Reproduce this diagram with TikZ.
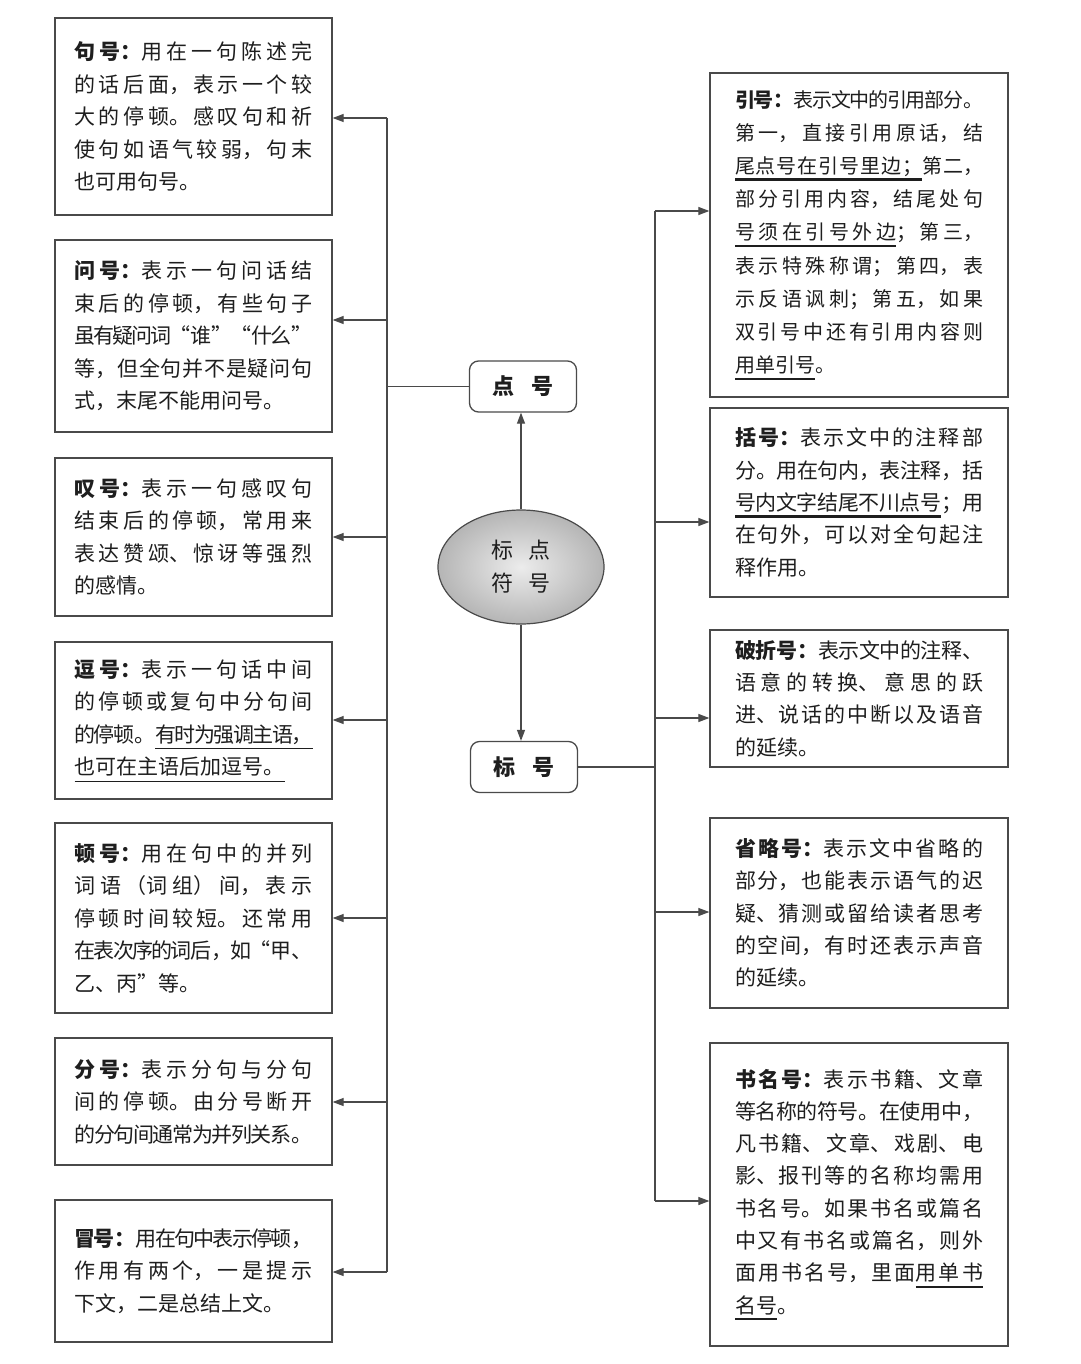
\documentclass[tikz,border=0pt]{standalone}
\usepackage{fontspec}
\newfontfamily\cjk{Noto Sans CJK SC}
\usetikzlibrary{arrows.meta,shapes.geometric}
\XeTeXlinebreaklocale "zh"
\XeTeXlinebreakskip=0pt plus 6pt minus 2.5pt
\tolerance=10000
\hbadness=10000
\hfuzz=20pt
\linepenalty=1000
% stretchable underline built char by char
\def\ulth{2.2pt}
\def\myulEnd{MYULEND}
\def\myul#1{\myulA#1\myulEnd}
\def\myulA#1{\ifx#1\myulEnd\else\myulC{#1}\expandafter\myulB\fi}
\def\myulB#1{\ifx#1\myulEnd\else\myulG\myulC{#1}\expandafter\myulB\fi}
\def\myulC#1{\setbox0\hbox{#1}\rlap{\vrule width\wd0 height\dimexpr-7pt+\ulth\relax depth 7pt}\box0}
\def\myulG{\leaders\vrule height\dimexpr-7pt+\ulth\relax depth 7pt\hskip 0pt plus 6pt minus 2.5pt}
\newcommand{\ulthin}[1]{{\def\ulth{0.9pt}\myul{#1}}}
\definecolor{linec}{HTML}{4A4A4A}
\definecolor{txtc}{HTML}{1E1E1E}
\tikzset{
  lbox/.style={draw=linec, line width=1.3pt, rectangle, text width=238pt, inner xsep=19.5pt, inner ysep=0pt, align=justify, text=txtc, font=\cjk\fontsize{21}{32.5}\selectfont},
  rbox/.style={draw=linec, line width=1.3pt, rectangle, text width=248pt, inner xsep=25pt, inner ysep=0pt, align=justify, text=txtc, font=\cjk\fontsize{21}{32.3}\selectfont},
  cbox/.style={draw=linec, line width=1.3pt, rounded corners=9pt, minimum width=107pt, minimum height=51pt, text=txtc, font=\cjk\bfseries\fontsize{22}{26}\selectfont},
  link/.style={draw=linec, line width=1.2pt},
  arr/.style={link, -{Triangle[length=11pt,width=8pt]}}
}
\begin{document}
\begin{tikzpicture}[x=1pt,y=-1pt]
\useasboundingbox[fill=white] (0,0) rectangle (1080,1364);

% left boxes
\node[lbox, minimum height=197pt] (l1) at (193.5,116.5) {\textbf{句号：}用在一句陈述完\linebreak 的话后面，表示一个较\linebreak 大的停顿。感叹句和祈\linebreak 使句如语气较弱，句末\linebreak 也可用句号。};
\node[lbox, minimum height=192pt] (l2) at (193.5,336) {\textbf{问号：}表示一句问话结\linebreak 束后的停顿，有些句子\linebreak 虽有疑问词“谁”“什么”\linebreak 等，但全句并不是疑问句\linebreak 式，末尾不能用问号。};
\node[lbox, minimum height=158pt] (l3) at (193.5,537) {\textbf{叹号：}表示一句感叹句\linebreak 结束后的停顿，常用来\linebreak 表达赞颂、惊讶等强烈\linebreak 的感情。};
\node[lbox, minimum height=157pt] (l4) at (193.5,720.5) {\textbf{逗号：}表示一句话中间\linebreak 的停顿或复句中分句间\linebreak 的停顿。\ulthin{有时为强调主语，}\linebreak \ulthin{也可在主语后加逗号。}};
\node[lbox, minimum height=190pt] (l5) at (193.5,918) {\textbf{顿号：}用在句中的并列\linebreak 词语（词组）间，表示\linebreak 停顿时间较短。还常用\linebreak 在表次序的词后，如“甲、\linebreak 乙、丙”等。};
\node[lbox, minimum height=127pt] (l6) at (193.5,1101.5) {\textbf{分号：}表示分句与分句\linebreak 间的停顿。由分号断开\linebreak 的分句间通常为并列关系。};
\node[lbox, minimum height=142pt] (l7) at (193.5,1271) {\textbf{冒号：}用在句中表示停顿，\linebreak 作用有两个，一是提示\linebreak 下文，二是总结上文。};

% right boxes
\node[rbox, minimum height=324pt, font=\cjk\fontsize{20}{33.2}\selectfont] (r1) at (859,235) {\textbf{引号：}表示文中的引用部分。\linebreak 第一，直接引用原话，结\linebreak \myul{尾点号在引号里边；}第二，\linebreak 部分引用内容，结尾处句\linebreak \myul{号须在引号外边}；第三，\linebreak 表示特殊称谓；第四，表\linebreak 示反语讽刺；第五，如果\linebreak 双引号中还有引用内容则\linebreak \myul{用单引号}。};
\node[rbox, minimum height=189pt] (r2) at (859,502.5) {\textbf{括号：}表示文中的注释部\linebreak 分。用在句内，表注释，括\linebreak \myul{号内文字结尾不川点号}；用\linebreak 在句外，可以对全句起注\linebreak 释作用。};
\node[rbox, minimum height=137pt] (r3) at (859,698.5) {\textbf{破折号：}表示文中的注释、\linebreak 语意的转换、意思的跃\linebreak 进、说话的中断以及语音\linebreak 的延续。};
\node[rbox, minimum height=190pt] (r4) at (859,913) {\textbf{省略号：}表示文中省略的\linebreak 部分，也能表示语气的迟\linebreak 疑、猜测或留给读者思考\linebreak 的空间，有时还表示声音\linebreak 的延续。};
\node[rbox, minimum height=303pt] (r5) at (859,1194.5) {\textbf{书名号：}表示书籍、文章\linebreak 等名称的符号。在使用中，\linebreak 凡书籍、文章、戏剧、电\linebreak 影、报刊等的名称均需用\linebreak 书名号。如果书名或篇名\linebreak 中又有书名或篇名，则外\linebreak 面用书名号，里面\myul{用单书}\linebreak \myul{名号}。};

% centre
\node[ellipse, draw=linec, line width=1.2pt, inner color=gray!15, outer color=gray!58, minimum width=166pt, minimum height=114pt, align=center, text=txtc, font=\cjk\fontsize{22}{33}\selectfont] (ell) at (521,567) {标\hspace{15pt}点\\符\hspace{15pt}号};
\node[cbox] (dian) at (523,386.5) {点\hspace{17pt}号};
\node[cbox] (biao) at (524,767) {标\hspace{17pt}号};

\draw[arr] (ell.north) -- (ell.north |- dian.south);
\draw[arr] (ell.south) -- (ell.south |- biao.north);

% left trunk
\coordinate (lt1) at (387,118);
\coordinate (lt2) at (387,320);
\coordinate (lt3) at (387,537);
\coordinate (lt4) at (387,720);
\coordinate (lt5) at (387,918);
\coordinate (lt6) at (387,1102);
\coordinate (lt7) at (387,1272);
\draw[link] (lt1) -- (lt7);
\draw[link] (dian.west) -- (dian.west -| lt1);
\foreach \i in {1,...,7} {\draw[arr] (lt\i) -- (lt\i -| l\i.east);}

% right trunk
\coordinate (rt1) at (655,211);
\coordinate (rt2) at (655,522);
\coordinate (rt3) at (655,718);
\coordinate (rt4) at (655,912);
\coordinate (rt5) at (655,1201);
\draw[link] (rt1) -- (rt5);
\draw[link] (biao.east) -- (biao.east -| rt1);
\foreach \i in {1,...,5} {\draw[arr] (rt\i) -- (rt\i -| r\i.west);}
\end{tikzpicture}
\end{document}
